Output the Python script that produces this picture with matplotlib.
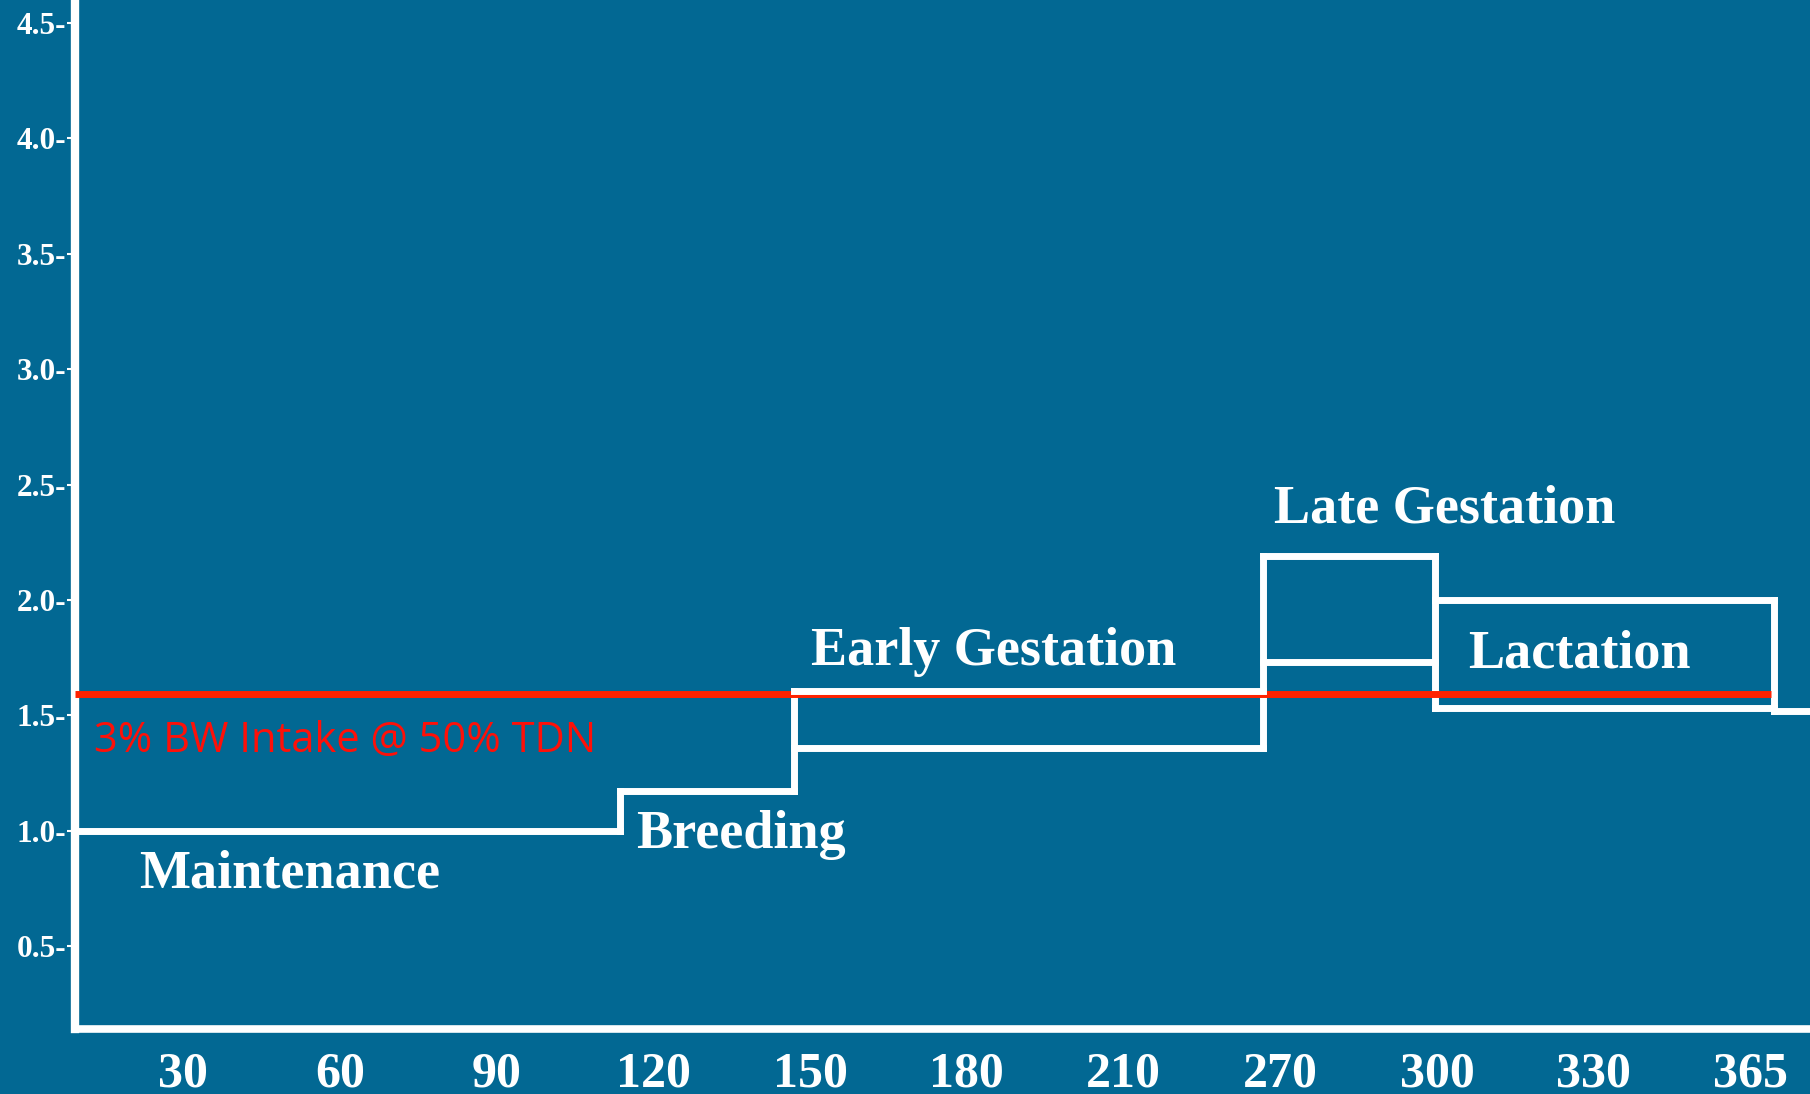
import matplotlib
matplotlib.use("Agg")
import matplotlib.pyplot as plt

# ---- data ----
x_labels = ["30", "60", "90", "120", "150", "180", "210", "270", "300", "330", "365"]
y_ticks = [0.5, 1.0, 1.5, 2.0, 2.5, 3.0, 3.5, 4.0, 4.5]

phase_names = ["Maintenance", "Breeding", "Early Gestation", "Late Gestation", "Lactation", ""]
# phase boundaries in x-axis category units (tick index)
phase_edges = [-0.69, 2.79, 3.90, 6.89, 7.99, 10.15, 10.38]
phase_low = [1.0, 1.17, 1.36, 1.73, 1.53, 1.52]
phase_high = [1.0, 1.17, 1.607, 2.19, 2.0, 1.52]

# label anchor (x index, y value) for each phase name
label_x = [0.68, 3.56, 5.17, 8.05, 8.91]
label_y = [0.81, 0.98, 1.775, 2.39, 1.765]

ref_level = 1.592
ref_end = 10.13
ref_label = "3% BW Intake @ 50% TDN"

BG = "#026893"
WHITE = "white"
RED_LINE = "#ff2200"
RED_TEXT = "#ff1008"

fig = plt.figure(figsize=(18.10, 10.94), dpi=100)
fig.patch.set_facecolor(BG)
ax = fig.add_axes([75 / 1810, 65 / 1094, 1 - 75 / 1810, 1 - 65 / 1094])
ax.set_facecolor(BG)

xmin, xmax = phase_edges[0], phase_edges[-1]
ax.set_xlim(xmin, xmax)
ax.set_ylim(0.14, 4.6)

lw = 5
# horizontal segments
for i in range(len(phase_low)):
    x0, x1 = phase_edges[i], phase_edges[i + 1]
    ax.hlines(phase_low[i], x0, x1, color=WHITE, lw=lw, zorder=4, capstyle="projecting")
    if phase_high[i] != phase_low[i]:
        ax.hlines(phase_high[i], x0, x1, color=WHITE, lw=lw, zorder=4, capstyle="projecting")
# vertical steps at boundaries
for i in range(1, len(phase_low)):
    vals = [phase_low[i - 1], phase_high[i - 1], phase_low[i], phase_high[i]]
    ax.vlines(phase_edges[i], min(vals), max(vals), color=WHITE, lw=lw, zorder=2,
              capstyle="projecting")

# reference line
ax.hlines(ref_level, xmin, ref_end, color=RED_LINE, lw=5, zorder=3)
ax.text(-0.57, 1.39, ref_label, color=RED_TEXT, fontsize=30, family="Open Sans",
        ha="left", va="center", zorder=5)

for name, lx, ly in zip(phase_names, label_x, label_y):
    ax.text(lx, ly, name, color=WHITE, fontsize=39, family="Liberation Serif",
            fontweight="bold", ha="center", va="center", zorder=5)

# axes styling
for s in ["top", "right"]:
    ax.spines[s].set_visible(False)
ax.spines["left"].set_color(WHITE)
ax.spines["left"].set_linewidth(6)
ax.spines["bottom"].set_color(WHITE)
ax.spines["bottom"].set_linewidth(5.5)
ax.spines["left"].set_capstyle("projecting")

ax.set_xticks(range(len(x_labels)))
ax.set_xticklabels(x_labels)
ax.set_yticks(y_ticks)
ax.set_yticklabels([f"{v:.1f}-" for v in y_ticks])

ax.tick_params(axis="x", length=0, pad=16, labelcolor=WHITE, labelsize=36)
ax.tick_params(axis="y", length=6, width=1.5, color=WHITE, pad=0.5, labelcolor=WHITE,
               labelsize=22.5)
for lab in ax.get_xticklabels() + ax.get_yticklabels():
    lab.set_family("Liberation Serif")
    lab.set_fontweight("bold")

fig.savefig("out.png", dpi=100, facecolor=BG)
